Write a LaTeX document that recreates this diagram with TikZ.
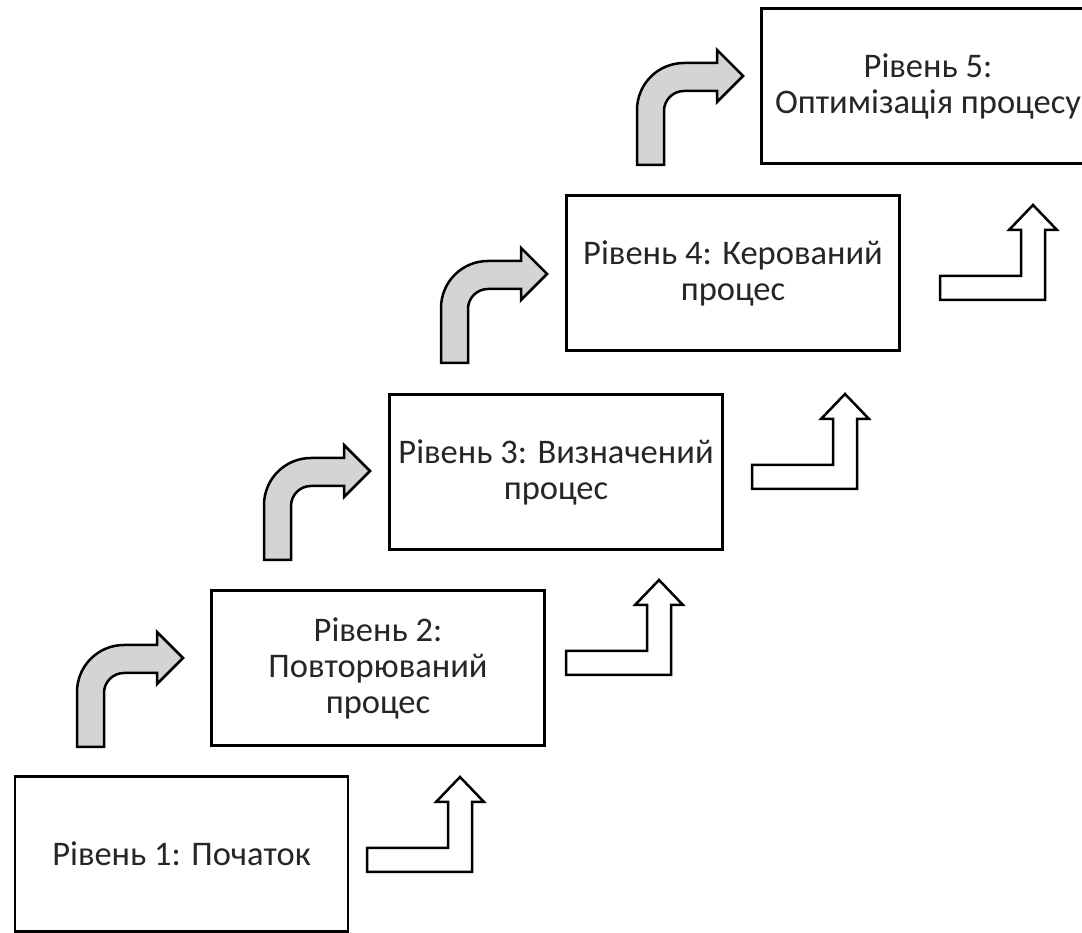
\documentclass[tikz,border=0pt]{standalone}
\usepackage{fontspec}
\setmainfont{Carlito}
\definecolor{ink}{HTML}{262626}
\definecolor{turnfill}{HTML}{D4D4D4}

\begin{document}
\begin{tikzpicture}[
  x=1pt, y=1pt, font=\fontsize{34.5}{36}\selectfont,
  level/.style={rectangle, draw=black, fill=white, line width=2.5pt, text=ink,
                minimum width=333pt, minimum height=155pt, align=center, inner sep=0pt},
  % gray bent arrow: shaft up, turning right
  turnright/.pic={
    \draw[draw=black, fill=turnfill, line width=2.5pt, line join=miter]
      (0,0) -- (0,55) arc[start angle=180, end angle=90, radius=47] -- (80,102)
      -- (80,115) -- (106,89) -- (80,63) -- (80,74) -- (47,74)
      arc[start angle=90, end angle=180, radius=20] -- (27,0) -- cycle;
  },
  % white bent arrow: bar to the right, then up
  turnup/.pic={
    \draw[draw=black, fill=white, line width=2.5pt, line join=miter]
      (0,0) -- (105,0) -- (105,70) -- (117,70) -- (93,95) -- (69,70)
      -- (81,70) -- (81,24) -- (0,24) -- cycle;
  },
]
\useasboundingbox (0,0) rectangle (1082,933);

% ---- levels ----
\node[level] (L1) at (181.5,79) {Рівень 1: Початок};
\node[level] (L2) at (378,265)  {Рівень 2:\\Повторюваний\\процес};
\node[level] (L3) at (556,461)  {Рівень 3: Визначений\\процес};
\node[level] (L4) at (733,660)  {Рівень 4: Керований\\процес};
\node[level] (L5) at (928,847)  {Рівень 5:\\Оптимізація процесу};

% ---- gray arrows (left of each step) ----
\pic at (77,186)  {turnright};
\pic at (264,373) {turnright};
\pic at (441,570) {turnright};
\pic at (637,768) {turnright};

% ---- white arrows (right of each step) ----
\pic at (367,61)  {turnup};
\pic at (566,258) {turnup};
\pic at (752,444) {turnup};
\pic at (940,633) {turnup};
\end{tikzpicture}
\end{document}
